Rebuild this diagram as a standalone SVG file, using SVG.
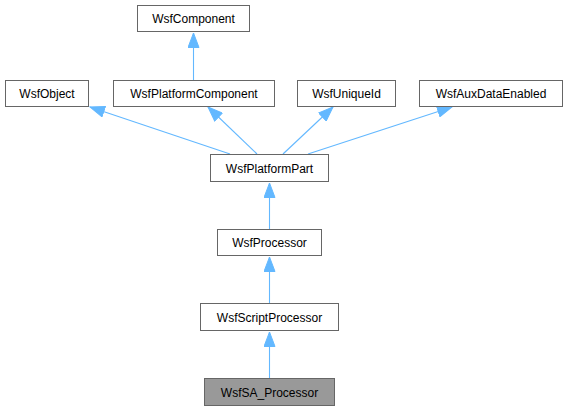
<svg xmlns="http://www.w3.org/2000/svg" width="568" height="411" viewBox="0 0 568 411">
<style>
.box{fill:#ffffff;stroke:#666666;stroke-width:1}
.cur{fill:#999999;stroke:#666666;stroke-width:1}
.lbl{font-family:"Liberation Sans",Arial,sans-serif;font-size:12px;fill:#000000;text-anchor:middle}
.edge{fill:none;stroke:#63b8ff;stroke-width:1.1;marker-end:url(#arr)}
</style>
<defs>
<marker id="arr" markerWidth="16" markerHeight="12" refX="15" refY="6" orient="auto" markerUnits="userSpaceOnUse">
<path d="M0.5,0.5 L15,6 L0.5,11.5 Z" fill="#63b8ff" stroke="#63b8ff" stroke-width="1"/>
</marker>
</defs>
<rect width="568" height="411" fill="#ffffff"/>
<g id="connectors">
<path class="edge" d="M193.5,80 L193.5,33"/>
<path class="edge" d="M230,154 L90,107"/>
<path class="edge" d="M257,154 L208,107"/>
<path class="edge" d="M283,154 L333,107"/>
<path class="edge" d="M308,154 L452,107"/>
<path class="edge" d="M269.5,229 L269.5,183"/>
<path class="edge" d="M269.5,303 L269.5,257"/>
<path class="edge" d="M269.5,378 L269.5,332"/>
</g>
<g id="WsfComponent"><rect class="box" x="137.5" y="5.5" width="112" height="26"/><text class="lbl" x="193.5" y="23">WsfComponent</text></g>
<g id="WsfObject"><rect class="box" x="5.5" y="80.5" width="83" height="26"/><text class="lbl" x="47" y="98">WsfObject</text></g>
<g id="WsfPlatformComponent"><rect class="box" x="113.5" y="80.5" width="161" height="26"/><text class="lbl" x="194" y="98">WsfPlatformComponent</text></g>
<g id="WsfUniqueId"><rect class="box" x="297.5" y="80.5" width="98" height="26"/><text class="lbl" x="346.5" y="98">WsfUniqueId</text></g>
<g id="WsfAuxDataEnabled"><rect class="box" x="419.5" y="80.5" width="143" height="26"/><text class="lbl" x="491" y="98">WsfAuxDataEnabled</text></g>
<g id="WsfPlatformPart"><rect class="box" x="210.5" y="154.5" width="118" height="27"/><text class="lbl" x="269.5" y="172.5">WsfPlatformPart</text></g>
<g id="WsfProcessor"><rect class="box" x="217.5" y="229.5" width="104" height="26"/><text class="lbl" x="269.5" y="247">WsfProcessor</text></g>
<g id="WsfScriptProcessor"><rect class="box" x="200.5" y="303.5" width="138" height="27"/><text class="lbl" x="269.5" y="321.5">WsfScriptProcessor</text></g>
<g id="WsfSA_Processor"><rect class="cur" x="204.5" y="378.5" width="130" height="27"/><text class="lbl" x="269.5" y="396.5">WsfSA_Processor</text></g>
</svg>
